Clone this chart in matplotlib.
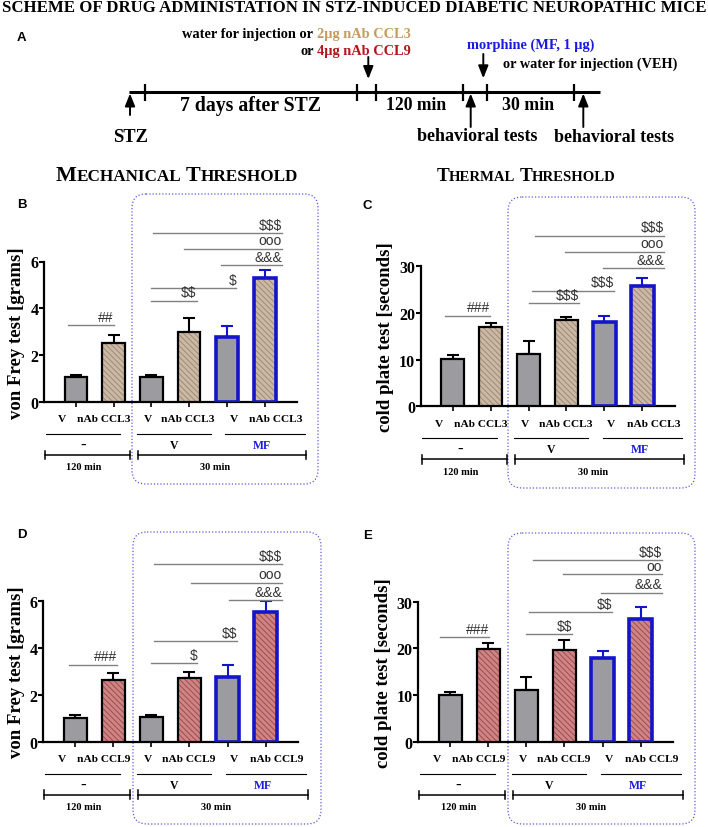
import matplotlib
matplotlib.use('Agg')
import matplotlib.pyplot as plt
from matplotlib.patches import FancyBboxPatch
from matplotlib import transforms
import numpy as np

SERIF = 'Liberation Serif'
SANS = 'Liberation Sans'
plt.rcParams['font.family'] = SERIF
plt.rcParams['hatch.linewidth'] = 0.7

# ---- data ----
bar_labels = ['V', 'nAb', 'V', 'nAb', 'V', 'nAb']
treatments = ['-', 'V', 'MF']
times = ['120 min', '30 min']

vf_ccl3 = [1.05, 2.50, 1.08, 3.00, 2.78, 5.30]
vf_ccl3_err = [0.10, 0.37, 0.08, 0.60, 0.47, 0.32]
cp_ccl3 = [10.2, 17.0, 11.2, 18.4, 18.1, 25.7]
cp_ccl3_err = [0.7, 0.9, 2.7, 0.7, 1.3, 1.7]
vf_ccl9 = [1.03, 2.63, 1.06, 2.71, 2.78, 5.55]
vf_ccl9_err = [0.10, 0.30, 0.10, 0.28, 0.50, 0.45]
cp_ccl9 = [10.1, 19.9, 11.0, 19.7, 18.0, 26.4]
cp_ccl9_err = [0.6, 1.3, 2.9, 2.1, 1.4, 2.4]

# significance marks: (symbol, from, to, height)
sig_B = [('##', -0.2, 1.0, 3.29), ('$$', 2.0, 3.2, 4.33), ('$', 2.0, 4.25, 4.87),
         ('&&&', 3.85, 5.45, 5.85), ('ooo', 2.85, 5.45, 6.54), ('$$$', 2.05, 5.45, 7.22)]
sig_C = [('###', -0.21, 0.98, 19.4), ('$$$', 2.0, 3.32, 22.1), ('$$$', 2.08, 4.25, 24.8),
         ('&&&', 3.96, 5.57, 29.6), ('ooo', 2.96, 5.57, 33.1), ('$$$', 2.16, 5.57, 36.6)]
sig_D = [('###', -0.16, 1.1, 3.29), ('$', 2.0, 3.2, 3.36), ('$$', 2.07, 4.25, 4.29),
         ('&&&', 4.04, 5.43, 6.06), ('ooo', 3.04, 5.43, 6.8), ('$$$', 2.07, 5.43, 7.59)]
sig_E = [('###', -0.26, 1.03, 22.4), ('$$', 2.0, 3.2, 23.0), ('$$', 2.08, 4.26, 27.7),
         ('&&&', 3.96, 5.57, 31.9), ('oo', 2.95, 5.57, 35.9), ('$$$', 2.17, 5.57, 38.9)]

GRAY = '#9c9ca0'
TAN, TAN_H = '#cbb9a5', '#a08a74'
RED, RED_H = '#cf8585', '#a04a4c'
BLUE = '#1414c8'
BOXC = '#5a5ad8'
TXT_TAN, TXT_RED, TXT_BLUE = '#c49c62', '#b0161b', '#1a1ae0'

fig = plt.figure(figsize=(7.08, 8.28), dpi=100)
ov = fig.add_axes([0, 0, 1, 1])
ov.set_xlim(0, 708)
ov.set_ylim(828, 0)
ov.axis('off')
rend = fig.canvas.get_renderer()


def text_w(s, fs, family, weight):
    t = ov.text(0, 0, s, fontsize=fs, family=family, weight=weight)
    w = t.get_window_extent(rend).width
    t.remove()
    return w


def rich(x, y, parts, ha='left', va='center', width=None, family=SERIF, weight='bold'):
    def build(scale):
        items, cx = [], x
        for s, c, fs in parts:
            size = fs * scale
            lead = len(s) - len(s.lstrip(' '))
            trail = len(s) - len(s.rstrip(' '))
            sp = text_w('n n', size, family, weight) - text_w('nn', size, family, weight)
            cx += lead * sp
            t = ov.text(cx, y, s.strip(' '), color=c, fontsize=size, family=family,
                        weight=weight, ha='left', va=va)
            cx += t.get_window_extent(rend).width + trail * sp
            items.append(t)
        return items, cx - x
    items, total = build(1.0)
    if width is not None:
        for t in items:
            t.remove()
        items, total = build(width / total)
    shift = {'left': 0, 'center': total / 2, 'right': total}[ha]
    for t in items:
        px, py = t.get_position()
        t.set_position((px - shift, py))


# ---- panel A: scheme ----
rich(354, 7.5, [('SCHEME OF DRUG ADMINISTATION IN STZ-INDUCED DIABETIC NEUROPATHIC MICE', 'k', 12)],
     ha='center', width=699)
ov.text(21.5, 38, 'A', family=SANS, weight='bold', fontsize=9.5, ha='center', va='center')
rich(411, 34.3, [('water for injection or ', 'k', 9.5), ('2μg nAb CCL3', TXT_TAN, 9.5)],
     ha='right', width=229)
rich(411, 51.7, [('or ', 'k', 9.5), ('4μg nAb CCL9', TXT_RED, 9.5)], ha='right', width=111)
rich(466.7, 45, [('morphine (MF, 1 μg)', TXT_BLUE, 9.5)], width=129)
rich(503, 64, [('or water for injection (VEH)', 'k', 9.5)], width=175)

ov.plot([129.3, 600], [92.7, 92.7], color='k', lw=2.2, solid_capstyle='butt')
ov.vlines([145, 357.3, 376.3, 463, 487.3, 574], 85, 101.7, color='k', lw=1.6)
arrow = dict(arrowstyle='-|>,head_length=0.75,head_width=0.3', color='k', lw=1.4,
             shrinkA=0, shrinkB=0, mutation_scale=10)
for xa, y0, y1 in [(368.3, 58, 80), (483.3, 55, 79.3)]:
    ov.annotate('', xy=(xa, y1), xytext=(xa, y0), arrowprops=arrow)
for xa in [130, 470.7, 583.3]:
    ov.annotate('', xy=(xa, 94.5), xytext=(xa, 116 if xa == 130 else 128), arrowprops=arrow)
rich(250, 106, [('7 days after STZ', 'k', 13)], ha='center', width=140)
rich(415.7, 106, [('120 min', 'k', 13)], ha='center', width=60)
rich(528, 106, [('30 min', 'k', 13)], ha='center', width=52)
rich(130.7, 138, [('STZ', 'k', 14)], ha='center', width=35)
rich(477, 136.7, [('behavioral tests', 'k', 12)], ha='center', width=120)
rich(614.5, 138, [('behavioral tests', 'k', 12)], ha='center', width=119)

# section headers (small caps look)
rich(177, 181, [('M', 'k', 15.5), ('ECHANICAL ', 'k', 12), ('T', 'k', 15.5), ('HRESHOLD', 'k', 12)],
     ha='center', va='baseline', width=240)
rich(526, 181, [('T', 'k', 15.5), ('HERMAL ', 'k', 12), ('T', 'k', 15.5), ('HRESHOLD', 'k', 12)],
     ha='center', va='baseline', width=178)

# dotted boxes around the 30 min groups
for (x0, y0, x1, y1) in [(132, 195, 318, 485), (508, 198, 695, 489),
                         (133, 533, 321, 825), (508, 534, 695, 825)]:
    ov.add_patch(FancyBboxPatch((x0, y0), x1 - x0, y1 - y0,
                                boxstyle='round,pad=0,rounding_size=14',
                                fill=False, ec=BOXC, lw=0.9, ls=(0, (1, 1.6))))

for lt, (lx, ly) in zip('BCDE', [(21.5, 205), (367.5, 206), (22, 535.5), (367.5, 536)]):
    ov.text(lx, ly, lt, family=SANS, weight='bold', fontsize=9.5, ha='center', va='center')


def panel(rect, means, errs, fill, hatchc, ab, ymax, ticks, ylabel, sig, lab_x):
    ax = fig.add_axes(rect)
    ax.patch.set_visible(False)
    x = np.arange(len(means))
    for i in range(len(means)):
        ec = BLUE if i >= 4 else 'k'
        lw = 2.6 if i >= 4 else 1.6
        ax.errorbar(x[i], means[i], yerr=[[0], [errs[i]]], color=ec, lw=1.5,
                    capsize=4.3, capthick=1.5, zorder=2)
        if bar_labels[i] == 'nAb':
            ax.bar(x[i], means[i], 0.59, color=fill, edgecolor=hatchc,
                   hatch='\\\\\\\\\\\\', lw=0, zorder=3)
            ax.bar(x[i], means[i], 0.59, fill=False, edgecolor=ec, lw=lw, zorder=4)
        else:
            ax.bar(x[i], means[i], 0.59, color=GRAY, edgecolor=ec, lw=lw, zorder=3)
    ax.set_xlim(-0.84, 5.85)
    ax.set_ylim(0, ymax)
    ax.set_xticks(x)
    ax.set_xticklabels([])
    ax.set_yticks(ticks, [str(t) for t in ticks], fontweight='bold')
    ax.tick_params(axis='y', length=3.5, width=1.5, labelsize=11.5, pad=0.6)
    ax.tick_params(axis='x', length=3.5, width=1.2)
    for s in ['top', 'right']:
        ax.spines[s].set_visible(False)
    for s in ['left', 'bottom']:
        ax.spines[s].set_linewidth(1.6)
    ax.set_ylabel(ylabel, fontsize=13.5, fontweight='bold')
    ax.yaxis.set_label_coords(lab_x, 0.5)

    for s, x0, x1, yv in sig:
        ax.plot([x0, x1], [yv, yv], color='#808080', lw=1.0, clip_on=False)
        ax.annotate(s, (x1, yv), xytext=(0, 1), textcoords='offset points', ha='right',
                    va='bottom', fontsize=10, family=SANS, color='#333333',
                    annotation_clip=False, parse_math=False)

    def below(dy):
        return transforms.offset_copy(ax.get_xaxis_transform(), fig=fig, y=-dy, units='dots')

    for xv, lb in zip([-0.36, 0.75, 1.9, 2.97, 4.18, 5.29], bar_labels):
        ax.text(xv, 0, 'V' if lb == 'V' else 'nAb ' + ab, transform=below(17), ha='center',
                va='center', fontsize=8.2, fontweight='bold')
    for (x0, x1), xc, tr in zip([(-0.8, 1.18), (1.63, 3.57), (3.95, 6.05)],
                                [0.2, 2.6, 4.93], treatments):
        ax.plot([x0, x1], [0, 0], transform=below(32), color='k', lw=0.8, clip_on=False)
        ax.text(xc, 0, tr, transform=below(43), ha='center', va='center',
                fontsize=12 if tr == '-' else 8.5, fontweight='bold',
                color=TXT_BLUE if tr == 'MF' else 'k')
    for (x0, x1), xc, tm in zip([(-0.81, 1.44), (1.65, 6.1)], [0.22, 3.69], times):
        tr_b = below(53)
        ax.plot([x0, x1], [0, 0], transform=tr_b, color='k', lw=1.1, clip_on=False)
        for xe in (x0, x1):
            ax.plot([xe, xe], [-0.03, 0.03], transform=tr_b, color='k', lw=1.1, clip_on=False)
        ax.text(xc, 0, tm, transform=below(65), ha='center', va='center',
                fontsize=7.5, fontweight='bold')
    return ax


panel([44 / 708, 1 - 403 / 828, 253 / 708, 140.5 / 828], vf_ccl3, vf_ccl3_err, TAN, TAN_H,
      'CCL3', 6, [0, 2, 4, 6], 'von Frey test [grams]', sig_B, -0.075)
panel([420.7 / 708, 1 - 407.3 / 828, 254 / 708, 140 / 828], cp_ccl3, cp_ccl3_err, TAN, TAN_H,
      'CCL3', 30, [0, 10, 20, 30], 'cold plate test [seconds]', sig_C, -0.107)
panel([43.3 / 708, 1 - 742.7 / 828, 254.7 / 708, 140.4 / 828], vf_ccl9, vf_ccl9_err, RED, RED_H,
      'CCL9', 6, [0, 2, 4, 6], 'von Frey test [grams]', sig_D, -0.072)
panel([418.3 / 708, 1 - 742.7 / 828, 254.7 / 708, 140 / 828], cp_ccl9, cp_ccl9_err, RED, RED_H,
      'CCL9', 30, [0, 10, 20, 30], 'cold plate test [seconds]', sig_E, -0.104)

fig.savefig('out.png', dpi=100)
